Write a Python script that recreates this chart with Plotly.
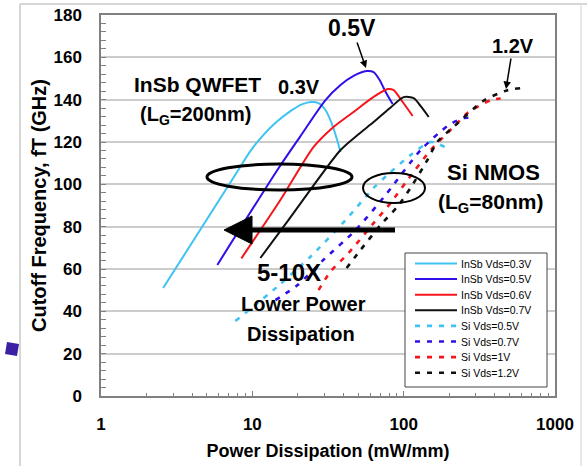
import plotly.graph_objects as go

# ---------------- data ----------------
insb03_x = [2.574, 8.08, 9.70, 11.65, 14.42, 17.85, 21.44, 24.59, 27.36, 30.44, 33.37, 36.01, 38.26]
insb03_y = [51.0, 106.8, 115.7, 122.8, 129.4, 134.6, 137.9, 138.9, 138.4, 135.1, 129.0, 121.9, 115.3]

insb05_x = [5.87, 14.64, 20.80, 30.44, 38.26, 46.66, 56.89, 63.29, 69.36, 76.01, 84.56]
insb05_y = [61.9, 106.8, 122.8, 139.8, 146.9, 151.2, 153.5, 153.0, 149.3, 143.6, 137.9]

insb06_x = [8.46, 15.32, 25.35, 34.39, 46.66, 63.29, 78.34, 85.87, 98.49, 114.7]
insb06_y = [65.0, 92.6, 117.6, 127.1, 134.2, 141.3, 145.0, 144.5, 138.9, 132.3]

insb07_x = [11.30, 17.31, 38.26, 49.59, 63.29, 82.02, 100.0, 116.5, 129.6, 146.4]
insb07_y = [65.2, 83.1, 116.2, 123.3, 129.4, 136.3, 141.2, 140.7, 136.9, 131.8]

si05_x = [7.72, 14.6, 24.2, 41.3, 63.3, 78.0, 111, 151, 193]
si05_y = [35.4, 51.6, 65.8, 83.1, 98.3, 104.4, 113.8, 120.0, 117.1]

si07_x = [14.2, 19.9, 29.5, 48.1, 76.0, 129.6, 198.6, 249.6, 290.9]
si07_y = [45.3, 52.4, 64.3, 78.4, 95.0, 116.2, 128.0, 131.3, 131.3]

si1_x = [27.4, 32.8, 43.2, 63.3, 82.0, 106, 151, 227, 264, 377, 473]
si1_y = [50.1, 58.7, 67.5, 81.7, 91.2, 102.0, 116.2, 129.0, 133.7, 139.8, 140.8]

si12_x = [42.0, 51.9, 70.4, 90.8, 111, 143.5, 167, 214, 339, 486, 604]
si12_y = [60.5, 69.0, 80.8, 89.4, 98.3, 111.5, 120.1, 127.2, 139.6, 144.5, 145.5]

series_names = ["InSb Vds=0.3V", "InSb Vds=0.5V", "InSb Vds=0.6V", "InSb Vds=0.7V",
                "Si Vds=0.5V", "Si Vds=0.7V", "Si Vds=1V", "Si Vds=1.2V"]

x_tickvals = [1, 10, 100, 1000]
x_ticktext = ["1", "10", "100", "1000"]
y_tickvals = [0, 20, 40, 60, 80, 100, 120, 140, 160, 180]

LBLUE, BLUE, RED, BLACK = "#3ec3f2", "#2f10ea", "#f5161c", "#111111"
series = [
    (series_names[0], insb03_x, insb03_y, LBLUE, "solid"),
    (series_names[1], insb05_x, insb05_y, BLUE, "solid"),
    (series_names[2], insb06_x, insb06_y, RED, "solid"),
    (series_names[3], insb07_x, insb07_y, BLACK, "solid"),
    (series_names[4], si05_x, si05_y, LBLUE, "dash"),
    (series_names[5], si07_x, si07_y, BLUE, "dash"),
    (series_names[6], si1_x, si1_y, RED, "dash"),
    (series_names[7], si12_x, si12_y, BLACK, "dash"),
]

FONT = "Arial, Liberation Sans, sans-serif"
W, H = 587, 466
L, R, T, B = 101, 32, 15, 70
PW, PH = W - L - R, H - T - B
DASH = "5px,7px"


def px(x):
    return (x - L) / PW


def py(y):
    return (H - B - y) / PH


def line_style(col, style):
    if style == "solid":
        return dict(color=col, width=2)
    return dict(color=col, width=2.6, dash=DASH)


fig = go.Figure()
for name, xs, ys, col, style in series:
    ln = line_style(col, style)
    ln.update(shape="spline", smoothing=0.7)
    fig.add_trace(go.Scatter(x=xs, y=ys, mode="lines", name=name, line=ln, showlegend=False))

shapes = []
# outer slide frame
shapes.append(dict(type="line", xref="paper", yref="paper", x0=px(20), y0=py(4), x1=px(587), y1=py(4),
                   line=dict(color="#c8c8c8", width=1.5)))
shapes.append(dict(type="line", xref="paper", yref="paper", x0=px(20), y0=py(4), x1=px(20), y1=py(466),
                   line=dict(color="#c8c8c8", width=1.5)))
shapes.append(dict(type="line", xref="paper", yref="paper", x0=px(581), y0=py(4), x1=px(581), y1=py(466),
                   line=dict(color="#e0e0e0", width=1.5)))
# ellipses
shapes.append(dict(type="circle", xref="paper", yref="paper", x0=px(207), x1=px(352), y0=py(190), y1=py(164),
                   line=dict(color="black", width=3)))
shapes.append(dict(type="circle", xref="paper", yref="paper", x0=px(363), x1=px(425), y0=py(203), y1=py(173),
                   line=dict(color="black", width=2)))
# big arrow
shapes.append(dict(type="line", xref="paper", yref="paper", x0=px(248), y0=py(230), x1=px(395), y1=py(230),
                   line=dict(color="black", width=5)))
shapes.append(dict(type="path", xref="paper", yref="paper",
                   path=f"M{px(224)},{py(230)} L{px(252)},{py(216)} L{px(252)},{py(244)} Z",
                   fillcolor="black", line=dict(color="black", width=1)))
# purple bullet
shapes.append(dict(type="path", xref="paper", yref="paper",
                   path=(f"M{px(7)},{py(342)} L{px(19)},{py(344)} L{px(17)},{py(356)} "
                         f"L{px(5)},{py(354)} Z"),
                   fillcolor="#3b1fa5", line=dict(color="#3b1fa5", width=0)))

ann = []

# ---- legend box (drawn by hand for compact rows) ----
shapes.append(dict(type="rect", xref="paper", yref="paper", x0=px(405), x1=px(547), y0=py(387), y1=py(253),
                   fillcolor="white", line=dict(color="#444444", width=1)))
for i, (name, xs, ys, col, style) in enumerate(series):
    yy = 263.5 + i * 15.6
    shapes.append(dict(type="line", xref="paper", yref="paper", x0=px(415), x1=px(457),
                       y0=py(yy), y1=py(yy), line=line_style(col, style)))
    ann.append(dict(xref="paper", yref="paper", x=px(459), y=py(yy), text=name, showarrow=False,
                    xanchor="left", yanchor="middle",
                    font=dict(family=FONT, size=10.5, color="black")))


def txt(x, y, s, size):
    ann.append(dict(xref="paper", yref="paper", x=px(x), y=py(y), text=s,
                    showarrow=False, xanchor="center", yanchor="middle",
                    font=dict(family=FONT, size=size, color="black", weight="bold")))


txt(197, 84, "InSb QWFET", 21)
txt(196, 115, "(L<sub>G</sub>=200nm)", 20)
txt(299, 87, "0.3V", 20)
txt(493, 172, "Si NMOS", 22)
txt(490, 203, "(L<sub>G</sub>=80nm)", 21)
txt(289, 272, "5-10X", 24)
txt(303, 304, "Lower Power", 20)
txt(301, 334, "Dissipation", 20)

# arrow labels
ann.append(dict(xref="paper", yref="paper", x=px(366), y=py(68), ax=352 - 366, ay=28 - 68,
                text="0.5V", showarrow=True, arrowhead=2, arrowsize=1, arrowwidth=1.5,
                arrowcolor="black", font=dict(family=FONT, size=23, color="black", weight="bold")))
ann.append(dict(xref="paper", yref="paper", x=px(506), y=py(89), ax=513 - 506, ay=46 - 89,
                text="1.2V", showarrow=True, arrowhead=2, arrowsize=1, arrowwidth=1.5,
                arrowcolor="black", font=dict(family=FONT, size=20, color="black", weight="bold")))

fig.update_layout(
    width=W, height=H, margin=dict(l=L, r=R, t=T, b=B, autoexpand=False),
    paper_bgcolor="white", plot_bgcolor="white",
    font=dict(family=FONT, color="black"),
    shapes=shapes, annotations=ann,
    showlegend=False,
    xaxis=dict(type="log", range=[0, 3], tickvals=x_tickvals, ticktext=x_ticktext, automargin=False,
               showgrid=False, zeroline=False, showline=True, linecolor="#808080", linewidth=1.5,
               mirror=True, ticks="inside", ticklen=5, tickcolor="#808080", ticklabelstandoff=12,
               tickfont=dict(family=FONT, size=17, color="black", weight="bold"),
               minor=dict(ticks="inside", ticklen=3, tickcolor="#808080", dtick="D1", showgrid=False),
               title=dict(text="Power Dissipation (mW/mm)",
                          font=dict(family=FONT, size=18, weight="bold"), standoff=11)),
    yaxis=dict(range=[0, 180], tickvals=y_tickvals, automargin=False,
               showgrid=True, gridcolor="#cccccc", gridwidth=1.5, zeroline=False,
               showline=True, linecolor="#808080", linewidth=1.5, mirror=True,
               ticks="inside", ticklen=5, tickcolor="#808080", ticklabelstandoff=14,
               tickfont=dict(family=FONT, size=17, color="black", weight="bold"),
               minor=dict(ticks="inside", ticklen=5, tickcolor="#808080", dtick=4, showgrid=False),
               title=dict(text="Cutoff Frequency, fT (GHz)",
                          font=dict(family=FONT, size=20, weight="bold"), standoff=1)),
)

fig.write_html("out.html")
